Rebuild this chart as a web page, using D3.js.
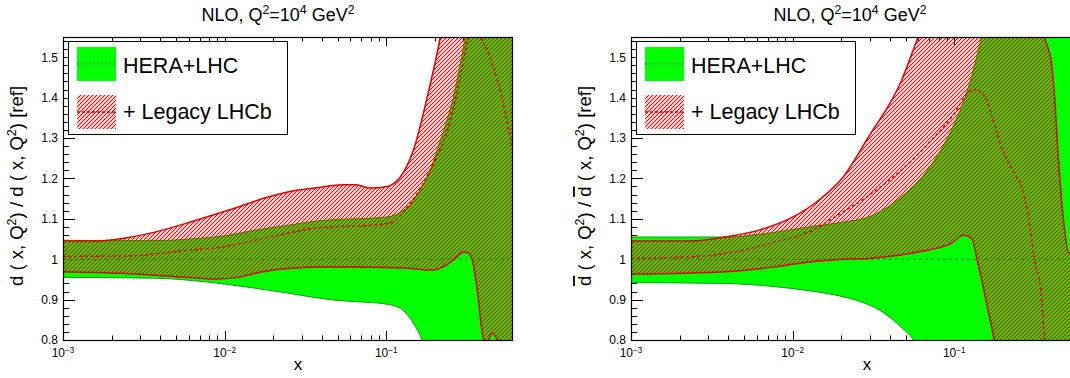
<!DOCTYPE html>
<html><head><meta charset="utf-8">
<script src="https://cdn.jsdelivr.net/npm/d3@7"></script>
<style>
body{margin:0;background:#fff;}
svg{display:block;}
text{font-family:"Liberation Sans",Arial,Helvetica,sans-serif;fill:#000;}
</style>
</head><body>
<svg id="chart" width="1070" height="378"></svg>
<script>
// ---------------- data ----------------
const xDomain = [0.001, 0.6];
const yDomain = [0.8, 1.55];
const xMajorTicks = [0.001, 0.01, 0.1];
const xMajorExp = ["\u22123", "\u22122", "\u22121"];
const xMinorTicks = [0.002,0.003,0.004,0.005,0.006,0.007,0.008,0.009,
                     0.02,0.03,0.04,0.05,0.06,0.07,0.08,0.09,
                     0.2,0.3,0.4,0.5];
const yMajorTicks = [0.8, 0.9, 1.0, 1.1, 1.2, 1.3, 1.4, 1.5];
const yTickLabels = ["0.8", "0.9", "1", "1.1", "1.2", "1.3", "1.4", "1.5"];
const legendLabels = ["HERA+LHC", "+ Legacy LHCb"];

// d ratio (left panel)
const dHeraLhcUp = [[0.001,1.047],[0.002,1.046],[0.0037,1.046],[0.0066,1.051],[0.0097,1.057],[0.0155,1.072],[0.0247,1.084],[0.0363,1.094],[0.047,1.098],[0.076,1.101],[0.106,1.106],[0.122,1.116],[0.141,1.136],[0.156,1.16],[0.179,1.203],[0.216,1.294],[0.26,1.40],[0.308,1.55],[0.36,1.72],[0.6,2.1]];
const dHeraLhcLo = [[0.001,0.955],[0.0037,0.953],[0.0076,0.944],[0.0155,0.928],[0.0247,0.916],[0.0363,0.905],[0.047,0.899],[0.07,0.894],[0.0958,0.890],[0.122,0.879],[0.147,0.842],[0.167,0.80],[0.2,0.70],[0.6,0.4]];
const dHeraLhcC  = [[0.001,1.0],[0.6,1.0]];
const dLegacyUp  = [[0.001,1.045],[0.0015,1.045],[0.0021,1.049],[0.0037,1.067],[0.0066,1.096],[0.0105,1.121],[0.0186,1.154],[0.0274,1.170],[0.0363,1.176],[0.0542,1.184],[0.065,1.184],[0.08,1.176],[0.096,1.178],[0.11,1.186],[0.122,1.203],[0.147,1.269],[0.179,1.40],[0.216,1.55],[0.26,1.75],[0.6,2.3]];
const dLegacyC   = [[0.001,1.007],[0.0025,1.008],[0.0059,1.022],[0.0097,1.030],[0.0155,1.047],[0.0247,1.065],[0.0363,1.077],[0.047,1.080],[0.08,1.084],[0.106,1.090],[0.141,1.138],[0.169,1.187],[0.195,1.236],[0.239,1.318],[0.287,1.45],[0.318,1.54],[0.345,1.60],[0.37,1.60],[0.382,1.56],[0.422,1.516],[0.508,1.417],[0.586,1.30],[0.6,1.28]];
const dLegacyLo  = [[0.001,0.969],[0.0023,0.965],[0.0055,0.956],[0.0087,0.951],[0.0121,0.955],[0.0171,0.969],[0.0247,0.977],[0.0363,0.981],[0.0763,0.980],[0.141,0.977],[0.195,0.973],[0.225,0.981],[0.275,1.006],[0.30,1.018],[0.322,1.015],[0.341,0.998],[0.366,0.923],[0.399,0.805],[0.42,0.795],[0.453,0.817],[0.49,0.80],[0.6,0.75]];

// dbar ratio (right panel)
const dbHeraLhcUp = [[0.001,1.055],[0.0038,1.055],[0.0078,1.067],[0.0126,1.080],[0.0205,1.092],[0.0292,1.104],[0.0469,1.154],[0.0751,1.244],[0.1,1.335],[0.1222,1.425],[0.147,1.55],[0.2,1.85],[0.6,2.5]];
const dbHeraLhcLo = [[0.001,0.942],[0.0038,0.940],[0.0078,0.932],[0.0126,0.922],[0.0205,0.907],[0.0284,0.890],[0.0352,0.872],[0.0469,0.832],[0.056,0.80],[0.07,0.72],[0.6,0.4]];
const dbHeraLhcC  = [[0.001,1.0],[0.6,1.0]];
const dbLegacyUp  = [[0.001,1.045],[0.0024,1.045],[0.0038,1.055],[0.0062,1.072],[0.01,1.104],[0.0145,1.146],[0.0205,1.203],[0.0292,1.300],[0.0469,1.44],[0.0598,1.55],[0.075,1.65],[0.15,1.9],[0.3,1.75],[0.362,1.55],[0.40,1.484],[0.418,1.40],[0.443,1.237],[0.482,1.072],[0.51,1.017],[0.6,1.01]];
const dbLegacyC   = [[0.001,1.002],[0.0024,1.006],[0.0049,1.022],[0.0078,1.043],[0.0126,1.067],[0.018,1.103],[0.0205,1.117],[0.0292,1.156],[0.0469,1.22],[0.0751,1.302],[0.1,1.36],[0.1222,1.413],[0.1332,1.42],[0.1535,1.405],[0.177,1.335],[0.196,1.277],[0.236,1.212],[0.261,1.178],[0.288,1.104],[0.314,0.998],[0.347,0.907],[0.362,0.80],[0.4,0.7]];
const dbLegacyLo  = [[0.001,0.963],[0.0038,0.969],[0.0078,0.981],[0.0126,0.993],[0.0205,1.0],[0.0292,1.002],[0.0598,1.018],[0.0957,1.039],[0.1137,1.059],[0.1276,1.052],[0.141,0.985],[0.1514,0.93],[0.1626,0.87],[0.177,0.80],[0.2,0.7],[0.6,0.5]];

// ---------------- drawing ----------------
const svg = d3.select("#chart");
const defs = svg.append("defs");
const pat = defs.append("pattern").attr("id","hatch")
  .attr("patternUnits","userSpaceOnUse").attr("width",4).attr("height",4);
pat.append("path").attr("d","M-1,1 L1,-1 M0,4 L4,0 M3,5 L5,3")
  .attr("stroke","#ff0000").attr("stroke-width",1.12).attr("fill","none");

const GREEN = "#00ff00", GREEN_EDGE = "#10a010", GREEN_DASH = "#2e7d2e";
const RED = "#e00000";

function richText(sel, parts){
  let prevSup = false;
  parts.forEach(([t,k])=>{
    const ts = sel.append("tspan").text(t);
    if(k==="s"){ ts.attr("font-size","0.68em").attr("dy","-0.55em"); prevSup = true; }
    else {
      if(prevSup){ ts.attr("dy","0.374em"); prevSup=false; }
      if(k==="o") ts.style("text-decoration","overline");
    }
  });
}

const panels = [
  {left:63, title:[["NLO, Q","n"],["2","s"],["=10","n"],["4","s"],[" GeV","n"],["2","s"]], titleX:278, xLabelX:298,
   ylab:[["d ( x, Q","n"],["2","s"],[") / d ( x, Q","n"],["2","s"],[") [ref]","n"]],
   hlUp:dHeraLhcUp, hlLo:dHeraLhcLo, hlC:dHeraLhcC, lgUp:dLegacyUp, lgLo:dLegacyLo, lgC:dLegacyC},
  {left:631, title:[["NLO, Q","n"],["2","s"],["=10","n"],["4","s"],[" GeV","n"],["2","s"]], titleX:850, xLabelX:867,
   ylab:[["d","o"],[" ( x, Q","n"],["2","s"],[") / ","n"],["d","o"],[" ( x, Q","n"],["2","s"],[") [ref]","n"]],
   hlUp:dbHeraLhcUp, hlLo:dbHeraLhcLo, hlC:dbHeraLhcC, lgUp:dbLegacyUp, lgLo:dbLegacyLo, lgC:dbLegacyC}
];

const PW = 449, TOP = 37, BOT = 340;

panels.forEach((p,i)=>{
  const g = svg.append("g");
  const x = d3.scaleLog().domain(xDomain).range([p.left, p.left+PW]);
  const y = d3.scaleLinear().domain(yDomain).range([BOT, TOP]);
  const x0 = p.left, x1 = p.left+PW;

  defs.append("clipPath").attr("id","clip"+i).append("rect")
    .attr("x",x0).attr("y",TOP).attr("width",PW).attr("height",BOT-TOP);

  // ticks (under the fills)
  const tk = g.append("g").attr("stroke","#000").attr("stroke-width",1);
  xMajorTicks.forEach(v=>{
    const px = Math.round(x(v))+0.5;
    tk.append("line").attr("x1",px).attr("x2",px).attr("y1",BOT).attr("y2",BOT-9);
    tk.append("line").attr("x1",px).attr("x2",px).attr("y1",TOP).attr("y2",TOP+9);
  });
  xMinorTicks.forEach(v=>{
    const px = Math.round(x(v))+0.5;
    tk.append("line").attr("x1",px).attr("x2",px).attr("y1",BOT).attr("y2",BOT-4.5);
    tk.append("line").attr("x1",px).attr("x2",px).attr("y1",TOP).attr("y2",TOP+4.5);
  });
  d3.range(0.8, 1.551, 0.02).forEach(v=>{
    const py = Math.round(y(v))+0.5;
    const major = yMajorTicks.some(m=>Math.abs(m-v)<1e-6);
    const L = major?12:6;
    tk.append("line").attr("x1",x0).attr("x2",x0+L).attr("y1",py).attr("y2",py);
    tk.append("line").attr("x1",x1).attr("x2",x1-L).attr("y1",py).attr("y2",py);
  });

  const line = d3.line().x(d=>x(d[0])).y(d=>y(d[1])).curve(d3.curveMonotoneX);
  const band = (up,lo)=> line(up) + "L" + line(lo.slice().reverse()).slice(1) + "Z";

  const plot = g.append("g").attr("clip-path","url(#clip"+i+")");
  plot.append("path").attr("d",band(p.hlUp,p.hlLo)).attr("fill",GREEN).attr("stroke","none");
  plot.append("path").attr("d",line(p.hlUp)).attr("fill","none").attr("stroke",GREEN_EDGE).attr("stroke-width",1);
  plot.append("path").attr("d",line(p.hlLo)).attr("fill","none").attr("stroke",GREEN_EDGE).attr("stroke-width",1);
  plot.append("path").attr("d",band(p.lgUp,p.lgLo)).attr("fill","url(#hatch)").attr("stroke","none");
  plot.append("path").attr("d",line(p.hlC)).attr("fill","none").attr("stroke",GREEN_DASH)
    .attr("stroke-width",1).attr("stroke-dasharray","3,3");
  plot.append("path").attr("d",line(p.lgC)).attr("fill","none").attr("stroke",RED)
    .attr("stroke-width",1.4).attr("stroke-dasharray","3,2.5");
  plot.append("path").attr("d",line(p.lgUp)).attr("fill","none").attr("stroke",RED).attr("stroke-width",1.5);
  plot.append("path").attr("d",line(p.lgLo)).attr("fill","none").attr("stroke",RED).attr("stroke-width",1.5);

  // frame
  g.append("rect").attr("x",x0+0.5).attr("y",TOP+0.5).attr("width",PW).attr("height",BOT-TOP)
    .attr("fill","none").attr("stroke","#000").attr("stroke-width",1.2);

  // y tick labels
  yMajorTicks.forEach((v,j)=>{
    g.append("text").attr("x",x0-5).attr("y",y(v)).attr("dy","0.36em")
      .attr("text-anchor","end").attr("font-size",12).text(yTickLabels[j]);
  });
  // x tick labels
  xMajorTicks.forEach((v,j)=>{
    const t = g.append("text").attr("x",x(v)).attr("y",357).attr("text-anchor","middle").attr("font-size",12);
    richText(t, [["10","n"],[xMajorExp[j],"s"]]);
  });
  // axis titles
  g.append("text").attr("x",p.xLabelX).attr("y",370).attr("text-anchor","middle").attr("font-size",17).text("x");
  const yl = g.append("text").attr("transform",`translate(${x0-40},186) rotate(-90)`)
    .attr("text-anchor","middle").attr("font-size",18.5);
  richText(yl, p.ylab);
  // title
  const tt = g.append("text").attr("x",p.titleX).attr("y",21).attr("text-anchor","middle").attr("font-size",18);
  richText(tt, p.title);

  // legend
  const bx = x0+5.5, by = 41.5;
  const lg = g.append("g");
  lg.append("rect").attr("x",bx).attr("y",by).attr("width",219).attr("height",93)
    .attr("fill","#fff").attr("stroke","#000").attr("stroke-width",1);
  const sx = bx+8.5, sw = 39;
  lg.append("rect").attr("x",sx).attr("y",47).attr("width",sw).attr("height",34).attr("fill",GREEN);
  lg.append("line").attr("x1",sx).attr("x2",sx+sw).attr("y1",64).attr("y2",64)
    .attr("stroke",GREEN_DASH).attr("stroke-width",1).attr("stroke-dasharray","2,2");
  lg.append("rect").attr("x",Math.round(sx)).attr("y",95).attr("width",sw).attr("height",34).attr("fill","url(#hatch)");
  lg.append("line").attr("x1",sx).attr("x2",sx+sw).attr("y1",112).attr("y2",112)
    .attr("stroke",RED).attr("stroke-width",1.3).attr("stroke-dasharray","3,2");
  lg.append("text").attr("x",bx+54.5).attr("y",73).attr("font-size",21.5).text(legendLabels[0]);
  lg.append("text").attr("x",bx+54.5).attr("y",118.5).attr("font-size",21.5).text(legendLabels[1]);
});
</script>
</body></html>
